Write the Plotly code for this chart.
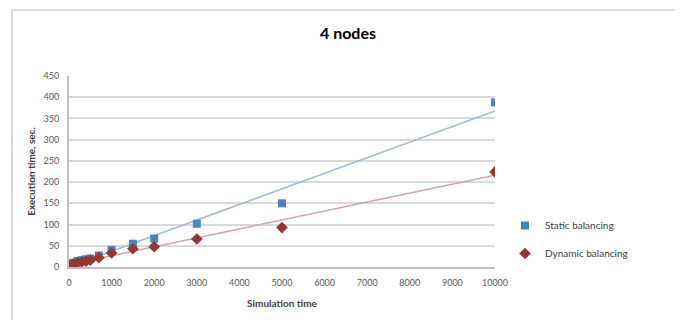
import numpy as np
import plotly.graph_objects as go

sim_time = [50, 100, 200, 300, 400, 500, 700, 1000, 1500, 2000, 3000, 5000, 10000]
static_balancing = [7, 10, 14, 16, 18, 20, 27, 40, 55, 67, 102, 150, 388]
dynamic_balancing = [5, 7, 10, 12, 14, 16, 22, 33, 43, 48, 66, 93, 224]

x_ticks = list(range(0, 10001, 1000))
y_ticks = list(range(0, 451, 50))

FONT = "Lato, 'Open Sans', sans-serif"
fig = go.Figure()

# Linear trendlines fitted from the data
xs = np.array([0, 10000])
for vals, col in [(static_balancing, "#9DB9DD"), (dynamic_balancing, "#D9A0A0")]:
    m, c = np.polyfit(sim_time, vals, 1)
    fig.add_trace(go.Scatter(x=xs, y=m * xs + c, mode="lines",
                             line=dict(color=col, width=1.5),
                             showlegend=False, hoverinfo="skip"))

fig.add_trace(go.Scatter(x=sim_time, y=static_balancing, mode="markers",
                         name="Static balancing", legendgroup="a",
                         marker=dict(symbol="square", size=8, color="#4F81BD")))
fig.add_trace(go.Scatter(x=sim_time, y=dynamic_balancing, mode="markers",
                         name="Dynamic balancing", legendgroup="b",
                         marker=dict(symbol="diamond", size=9, color="#953735")))

OFF = 8  # page body margin
W, H = 683 - OFF, 320 - OFF
L, R, T, B = 69 - OFF, 495 - OFF, 76 - OFF, 267 - OFF
def px(v):
    return (v - OFF - L) / (R - L)
def py(v):
    return (B - (v - OFF)) / (B - T)

fig.add_shape(type="rect", xref="paper", yref="paper",
              x0=px(12), x1=px(681), y0=py(322), y1=py(10),
              line=dict(color="#D0D0D0", width=1.5), layer="below")

fig.update_layout(
    width=W, height=H,
    margin=dict(l=L, r=W - R, t=T, b=H - B),
    paper_bgcolor="white", plot_bgcolor="white",
    font=dict(family=FONT, color="#404040"),
    title=dict(text="<b>4 nodes</b>", xref="container", x=(348 - OFF) / W,
               xanchor="center", yref="container",
               y=1 - (33 - OFF) / H, yanchor="middle",
               font=dict(size=16, color="#000000", family=FONT)),
    showlegend=True,
    legend=dict(x=px(505), y=py(211), xanchor="left", yanchor="top",
                font=dict(size=10, color="#404040", family=FONT),
                itemwidth=30, tracegroupgap=9, bgcolor="rgba(0,0,0,0)"),
    xaxis=dict(range=[0, 10000], tickvals=x_ticks, ticktext=[str(v) for v in x_ticks],
               showgrid=False, zeroline=False, showline=True,
               linecolor="#BFBFBF", linewidth=2,
               ticks="", ticklabelstandoff=6,
               tickfont=dict(size=9, color="#595959", family=FONT),
               title=dict(text="<b>Simulation time</b>", standoff=13,
                          font=dict(size=10, color="#404040", family=FONT))),
    yaxis=dict(range=[0, 450], tickvals=y_ticks, ticktext=[str(v) for v in y_ticks],
               showgrid=True, gridcolor="#D9D9D9", gridwidth=2,
               zeroline=False, showline=True, linecolor="#BFBFBF", linewidth=2,
               ticks="", ticklabelstandoff=6,
               tickfont=dict(size=9, color="#595959", family=FONT),
               title=dict(text="<b>Execution time, sec.</b>", standoff=6,
                          font=dict(size=10, color="#404040", family=FONT))),
)

fig.write_html("out.html")
